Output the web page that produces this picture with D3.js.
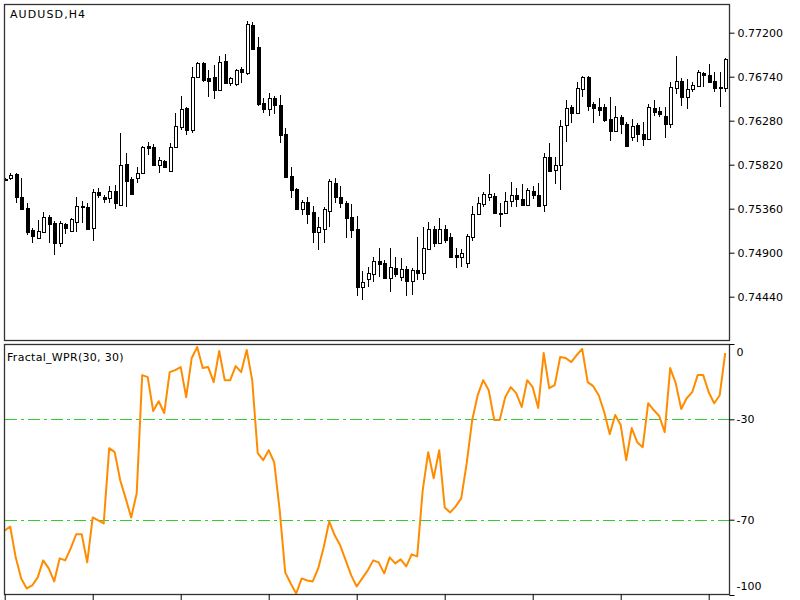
<!DOCTYPE html>
<html><head><meta charset="utf-8">
<script src="https://cdn.jsdelivr.net/npm/d3@7"></script>
<style>
html,body{margin:0;padding:0;background:#fff;}
svg{display:block;}
text{font-family:"DejaVu Sans",sans-serif;font-size:11px;fill:#000;}
</style></head><body>
<svg id="chart" width="800" height="600"></svg>
<script>
const symbolTitle = "AUDUSD,H4";
const indicatorTitle = "Fractal_WPR(30, 30)";

const open = [
0.75671,0.75681,0.75723,0.75482,0.75367,0.75137,0.75054,0.75117,0.75273,0.75211,
0.75002,0.75200,0.75127,0.75221,0.75388,0.75378,0.75158,0.75535,0.75482,0.75472,
0.75545,0.75399,0.75827,0.75671,0.75681,0.75733,0.76016,0.76005,0.75817,0.75859,
0.75754,0.76005,0.76214,0.76413,0.76183,0.76737,0.76883,0.76727,0.76737,0.76601,
0.76904,0.76674,0.76664,0.76821,0.76779,0.77281,0.77051,0.76465,0.76402,0.76517,
0.76444,0.76141,0.75702,0.75566,0.75357,0.75430,0.75326,0.75117,0.75148,0.75336,
0.75629,0.75482,0.75420,0.75273,0.75148,0.74542,0.74625,0.74677,0.74813,0.74792,
0.74636,0.74740,0.74646,0.74730,0.74604,0.74719,0.74688,0.74939,0.75148,0.75002,
0.75148,0.75064,0.74876,0.74855,0.74792,0.75064,0.75305,0.75409,0.75482,0.75493,
0.75315,0.75315,0.75441,0.75503,0.75462,0.75399,0.75545,0.75503,0.75399,0.75901,
0.75765,0.75817,0.76235,0.76423,0.76361,0.76612,0.76737,0.76455,0.76423,0.76423,
0.76298,0.76172,0.76319,0.76246,0.76110,0.76235,0.76141,0.76089,0.76413,0.76382,
0.76329,0.76246,0.76622,0.76695,0.76528,0.76612,0.76643,0.76779,0.76758,0.76695,
0.76632,0.76622];

const high = [
0.75681,0.75733,0.75733,0.75681,0.75420,0.75158,0.75242,0.75326,0.75294,0.75232,
0.75232,0.75211,0.75263,0.75482,0.75441,0.75420,0.75566,0.75577,0.75503,0.75597,
0.75608,0.76152,0.75942,0.75692,0.75796,0.76016,0.76057,0.76037,0.75901,0.75869,
0.76047,0.76361,0.76538,0.76423,0.76842,0.76894,0.76894,0.76810,0.76862,0.76957,
0.76977,0.76737,0.76821,0.76842,0.77322,0.77312,0.77155,0.76517,0.76570,0.76538,
0.76549,0.76204,0.75796,0.75577,0.75451,0.75482,0.75388,0.75273,0.75378,0.75671,
0.75681,0.75597,0.75441,0.75409,0.75284,0.74709,0.74751,0.74855,0.74949,0.74824,
0.74949,0.74855,0.74845,0.74761,0.74740,0.75064,0.75169,0.75221,0.75179,0.75263,
0.75190,0.75106,0.74949,0.74939,0.75096,0.75388,0.75482,0.75535,0.75723,0.75524,
0.75420,0.75535,0.75639,0.75577,0.75618,0.75577,0.75597,0.75629,0.75942,0.76047,
0.75901,0.76287,0.76497,0.76444,0.76685,0.76747,0.76747,0.76476,0.76517,0.76455,
0.76528,0.76434,0.76340,0.76267,0.76298,0.76256,0.76267,0.76455,0.76497,0.76423,
0.76423,0.76685,0.76957,0.76727,0.76716,0.76685,0.76810,0.76789,0.76873,0.76789,
0.76789,0.76936];

const low = [
0.75650,0.75660,0.75420,0.75357,0.75085,0.75002,0.75054,0.75106,0.75002,0.74876,
0.74960,0.75096,0.75117,0.75117,0.75211,0.75137,0.75022,0.75472,0.75420,0.75420,
0.75357,0.75388,0.75378,0.75503,0.75629,0.75723,0.75922,0.75807,0.75733,0.75786,
0.75744,0.76005,0.76183,0.76131,0.76152,0.76727,0.76685,0.76528,0.76507,0.76591,
0.76674,0.76643,0.76643,0.76674,0.76758,0.77019,0.76434,0.76361,0.76329,0.76350,
0.76047,0.75692,0.75472,0.75347,0.75294,0.75200,0.75002,0.74928,0.75002,0.75169,
0.75420,0.75367,0.75054,0.75054,0.74447,0.74406,0.74542,0.74594,0.74646,0.74625,
0.74489,0.74646,0.74604,0.74447,0.74458,0.74615,0.74615,0.74928,0.74960,0.74991,
0.75002,0.74845,0.74740,0.74751,0.74740,0.75022,0.75294,0.75378,0.75441,0.75305,
0.75169,0.75305,0.75378,0.75378,0.75399,0.75388,0.75462,0.75378,0.75326,0.75754,
0.75618,0.75556,0.76057,0.76256,0.76350,0.76528,0.76382,0.76256,0.76329,0.76267,
0.76068,0.76162,0.76141,0.76005,0.76068,0.76057,0.76016,0.76078,0.76329,0.76319,
0.76099,0.76204,0.76559,0.76434,0.76402,0.76580,0.76632,0.76632,0.76674,0.76580,
0.76423,0.76580];

const close = [
0.75660,0.75712,0.75482,0.75357,0.75117,0.75075,0.75127,0.75273,0.75200,0.75002,
0.75211,0.75158,0.75252,0.75388,0.75378,0.75148,0.75535,0.75503,0.75462,0.75545,
0.75420,0.75817,0.75650,0.75514,0.75733,0.76005,0.75995,0.75817,0.75869,0.75796,
0.76005,0.76225,0.76402,0.76183,0.76737,0.76883,0.76706,0.76695,0.76601,0.76894,
0.76674,0.76727,0.76810,0.76789,0.77291,0.77030,0.76455,0.76402,0.76517,0.76444,
0.76131,0.75692,0.75556,0.75357,0.75430,0.75305,0.75117,0.75169,0.75357,0.75650,
0.75482,0.75420,0.75263,0.75137,0.74542,0.74594,0.74688,0.74813,0.74782,0.74636,
0.74751,0.74677,0.74730,0.74604,0.74719,0.74688,0.74949,0.75148,0.75002,0.75148,
0.75033,0.74855,0.74855,0.74897,0.75075,0.75305,0.75420,0.75514,0.75514,0.75315,
0.75305,0.75441,0.75503,0.75462,0.75399,0.75556,0.75503,0.75388,0.75901,0.75754,
0.75817,0.76225,0.76413,0.76361,0.76622,0.76737,0.76434,0.76413,0.76392,0.76287,
0.76172,0.76319,0.76246,0.76016,0.76225,0.76141,0.76089,0.76423,0.76371,0.76350,
0.76246,0.76632,0.76695,0.76528,0.76612,0.76653,0.76789,0.76758,0.76685,0.76622,
0.76622,0.76925];

const wpr = [
-74.3,-72.7,-85.0,-93.4,-97.4,-96.2,-93.0,-86.2,-89.4,-94.6,
-85.4,-86.2,-81.4,-75.8,-75.8,-87.0,-69.1,-70.3,-71.5,-41.5,
-43.1,-54.3,-61.5,-69.1,-59.5,-12.4,-13.2,-26.7,-22.8,-27.5,
-11.2,-10.4,-9.2,-21.2,-5.6,-1.2,-9.6,-9.2,-15.2,-2.8,
-14.4,-14.4,-8.8,-11.2,-2.4,-14.4,-43.5,-46.3,-42.3,-47.1,
-66.3,-91.0,-95.4,-99.4,-93.4,-94.2,-94.6,-89.4,-81.0,-70.7,
-76.2,-80.2,-86.2,-92.2,-96.6,-93.4,-90.2,-86.2,-87.0,-91.4,
-85.0,-87.4,-85.8,-88.6,-83.8,-84.6,-58.3,-43.1,-53.5,-42.3,
-65.1,-67.1,-64.7,-61.5,-47.5,-30.3,-20.4,-14.4,-18.4,-30.3,
-30.3,-21.2,-17.2,-19.6,-25.1,-14.4,-17.2,-25.5,-3.6,-17.6,
-16.4,-5.2,-5.6,-7.2,-4.4,-2.0,-15.2,-16.8,-20.4,-27.1,
-35.9,-28.3,-32.3,-46.3,-33.5,-39.1,-41.1,-23.6,-26.3,-28.7,
-35.1,-9.6,-15.6,-25.9,-21.6,-19.2,-12.4,-12.4,-19.2,-23.6,
-20.4,-3.6];

const priceTicks = [0.7444, 0.7490, 0.7536, 0.7582, 0.7628, 0.7674, 0.7720];
const wprTicks = [0, -30, -70, -100];
const wprLevels = [-30, -70];
const timeTickIdx = [0, 16, 32, 48, 64, 80, 96, 112, 128];

const svg = d3.select("#chart");
const L = 4.5, R = 729.5, T1 = 4.5, B1 = 340.5, T2 = 344.5, B2 = 594.5;

const n = open.length;
const x = d3.scaleLinear().domain([0, n - 1]).range([4.7, 725.2]);
const yP = d3.scaleLinear().domain([0.7444, 0.7720]).range([296.7, 32.7]);
const yW = d3.scaleLinear().domain([0, -100]).range([344, 595]);

svg.append("rect").attr("width", 800).attr("height", 600).attr("fill", "#fff");

const defs = svg.append("defs");
defs.append("clipPath").attr("id", "c1").append("rect")
  .attr("x", L).attr("y", T1).attr("width", R - L).attr("height", B1 - T1);
defs.append("clipPath").attr("id", "c2").append("rect")
  .attr("x", L).attr("y", T2).attr("width", R - L).attr("height", B2 - T2);

// candles
const gC = svg.append("g").attr("clip-path", "url(#c1)");
const idx = d3.range(n);
gC.selectAll("line.wick").data(idx).join("line")
  .attr("class", "wick")
  .attr("x1", i => Math.round(x(i)) + 0.5).attr("x2", i => Math.round(x(i)) + 0.5)
  .attr("y1", i => yP(high[i])).attr("y2", i => yP(low[i]))
  .attr("stroke", "#000").attr("stroke-width", 1).attr("shape-rendering", "crispEdges");
gC.selectAll("rect.body").data(idx).join("rect")
  .attr("class", "body")
  .attr("x", i => Math.round(x(i)) - 1)
  .attr("width", 3)
  .attr("y", i => Math.round(yP(Math.max(open[i], close[i]))) + 0.5)
  .attr("height", i => Math.max(0, Math.round(Math.abs(yP(open[i]) - yP(close[i])))))
  .attr("fill", i => close[i] > open[i] ? "#fff" : "#000")
  .attr("stroke", "#000").attr("stroke-width", 1).attr("shape-rendering", "crispEdges");

// indicator levels and line
const gW = svg.append("g").attr("clip-path", "url(#c2)");
gW.selectAll("line.level").data(wprLevels).join("line")
  .attr("class", "level")
  .attr("x1", L).attr("x2", R)
  .attr("y1", d => Math.round(yW(d)) + 0.5).attr("y2", d => Math.round(yW(d)) + 0.5)
  .attr("stroke", "#32CD32").attr("stroke-width", 1)
  .attr("shape-rendering", "crispEdges")
  .attr("stroke-dasharray", "12,4,3,4");
gW.append("path").datum(wpr)
  .attr("d", d3.line().x((d, i) => x(i)).y(d => yW(d)))
  .attr("fill", "none").attr("stroke", "#FF8C00").attr("stroke-width", 2)
  .attr("stroke-linejoin", "round");

// frames
svg.append("rect").attr("x", L).attr("y", T1).attr("width", R - L).attr("height", B1 - T1)
  .attr("fill", "none").attr("stroke", "#333").attr("stroke-width", 1.3);
svg.append("rect").attr("x", L).attr("y", T2).attr("width", R - L).attr("height", B2 - T2)
  .attr("fill", "none").attr("stroke", "#333").attr("stroke-width", 1.3);

// price axis
const axP = svg.append("g").attr("transform", `translate(${R},0)`)
  .call(d3.axisRight(yP).tickValues(priceTicks).tickSize(5).tickPadding(3)
    .tickFormat(d3.format(".5f")));
axP.select(".domain").remove();
axP.selectAll("text").attr("font-family", "DejaVu Sans").attr("font-size", 11).attr("fill", "#000");
axP.selectAll("line").attr("stroke", "#000");

// wpr axis
const axW = svg.append("g").attr("transform", `translate(${R},0)`)
  .call(d3.axisRight(yW).tickValues(wprTicks).tickSize(5).tickPadding(2)
    .tickFormat(d => String(d)));
axW.select(".domain").remove();
axW.selectAll("text").attr("font-family", "DejaVu Sans").attr("font-size", 11).attr("fill", "#000")
  .attr("dy", d => d === 0 ? "1.0em" : d === -100 ? "-0.5em" : "0.32em");
axW.selectAll("line").attr("stroke", "#000");

// time ticks
const axT = svg.append("g").attr("transform", `translate(0,${B2})`)
  .call(d3.axisBottom(x).tickValues(timeTickIdx).tickSize(7).tickFormat(""));
axT.select(".domain").remove();
axT.selectAll("line").attr("stroke", "#000");

// titles
svg.append("text").attr("x", 10).attr("y", 18).attr("letter-spacing", "1.1px").text(symbolTitle);
svg.append("text").attr("x", 7).attr("y", 361).attr("letter-spacing", "0.3px").text(indicatorTitle);
</script>
</body></html>
